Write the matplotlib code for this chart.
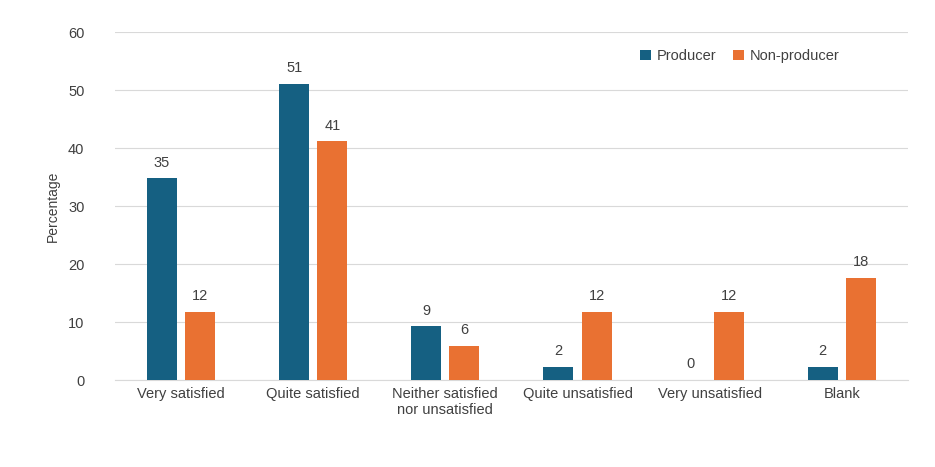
import matplotlib
matplotlib.use("Agg")
import matplotlib.pyplot as plt
import numpy as np

categories = ["Very satisfied", "Quite satisfied", "Neither satisfied\nnor unsatisfied",
              "Quite unsatisfied", "Very unsatisfied", "Blank"]
producer = [34.8, 51.1, 9.3, 2.3, 0.0, 2.3]
non_producer = [11.8, 41.2, 5.9, 11.8, 11.8, 17.6]

plt.rcParams['font.family'] = ['Liberation Sans', 'DejaVu Sans']
fig = plt.figure(figsize=(9.35, 4.67), dpi=100)
ax = fig.add_axes([0.123, 0.186, 0.848, 0.745])
x = np.arange(len(categories))
w = 0.227
off = 0.144
c1, c2 = "#156082", "#E97132"
b1 = ax.bar(x - off, producer, w, color=c1, label="Producer", zorder=3)
b2 = ax.bar(x + off, non_producer, w, color=c2, label="Non-producer", zorder=3)
for bars, vals in ((b1, producer), (b2, non_producer)):
    for b, v in zip(bars, vals):
        ax.text(b.get_x() + b.get_width()/2, v + 1.5, f"{round(v):.0f}",
                ha="center", va="bottom", fontsize=10.5, color="#404040")
ax.set_ylim(0, 60)
ax.set_xlim(-0.5, len(categories) - 0.5)
ax.set_yticks(range(0, 61, 10))
ax.yaxis.grid(True, color="#d9d9d9", linewidth=0.8, zorder=0)
ax.set_xticks(x)
ax.set_xticklabels(categories, fontsize=10.5, color="#404040")
ax.tick_params(axis='y', labelsize=10.5, colors="#404040", length=0, pad=22)
ax.tick_params(axis='x', length=0, pad=5)
for s in ["top", "right", "left"]:
    ax.spines[s].set_visible(False)
ax.spines["bottom"].set_color("#d9d9d9")
ax.set_ylabel("Percentage", fontsize=10, color="#404040", labelpad=6)
ax.legend(loc="upper right", bbox_to_anchor=(0.93, 0.99), ncol=2, frameon=False,
          fontsize=10.5, handlelength=0.7, handleheight=0.7, columnspacing=1.2,
          handletextpad=0.4, labelcolor="#404040")
fig.savefig("out.png", dpi=100)
